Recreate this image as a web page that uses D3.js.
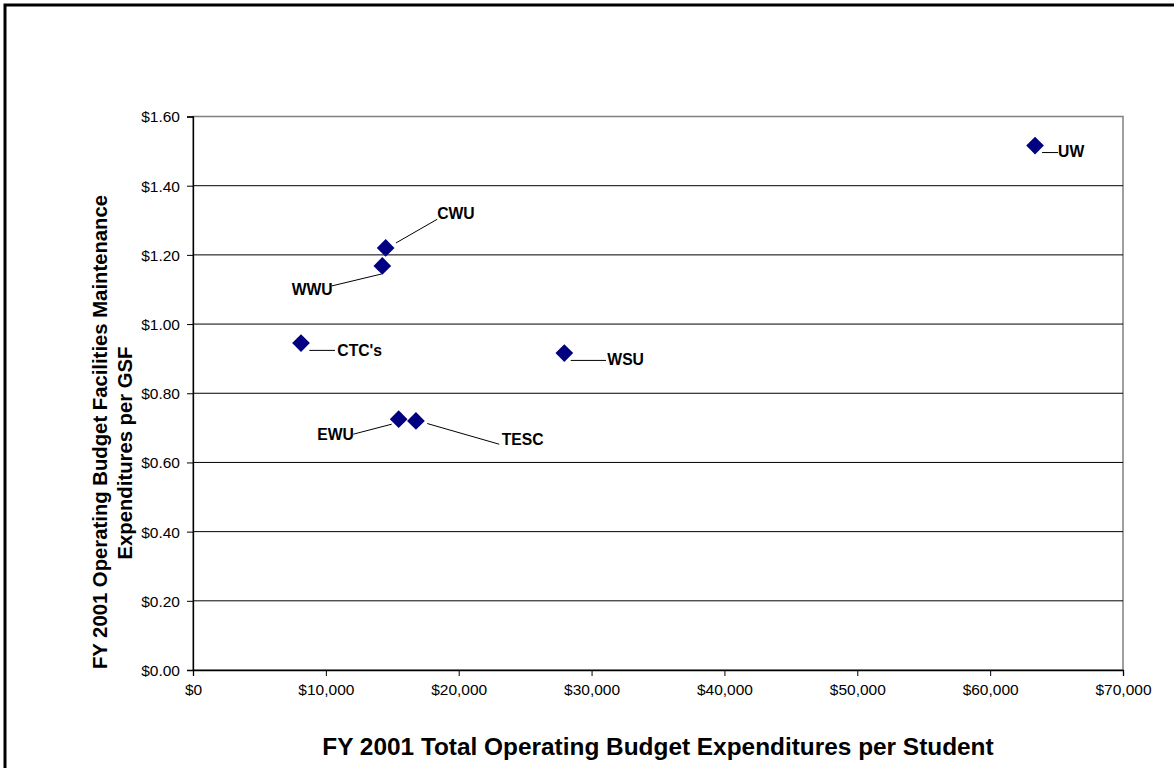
<!DOCTYPE html>
<html><head>
<meta charset="utf-8">
<script src="https://cdn.jsdelivr.net/npm/d3@7"></script>
<style>
body { margin: 0; background: #fff; }
text { font-family: "Liberation Sans", Arial, sans-serif; }
.lbl { font-size: 15.7px; font-weight: bold; }
.title { font-size: 24.4px; font-weight: bold; }
.ytitle { font-size: 20.3px; font-weight: bold; }
</style>
</head>
<body>
<script>
// values
var schools = ["UW", "CWU", "WWU", "CTC's", "WSU", "EWU", "TESC"];
var perStudent = [63380, 14500, 14250, 8130, 27950, 15480, 16780];
var perGsf = [1.516, 1.220, 1.168, 0.945, 0.916, 0.725, 0.720];
// label offsets (dx,dy from point) and leader line ends
var labelDx = [23, 51.6, -90.6, 36.3, 43, -81.4, 85.7];
var labelDy = [11, -28.7, 29, 13.3, 12.3, 21, 24.3];
var lineFrom = [[7, 7], [10.3, -5], [-0.6, 8], [8.3, 7.3], [6.4, 7.3], [-7, 5], [11.3, 2.6]];
var lineTo = [[23, 7], [51.6, -28.7], [-50.6, 20], [34, 7.3], [41.7, 7.3], [-45.4, 15], [83.3, 23.3]];

var xTicks = [0, 10000, 20000, 30000, 40000, 50000, 60000, 70000];
var yTicks = [0, 0.2, 0.4, 0.6, 0.8, 1.0, 1.2, 1.4, 1.6];

var width = 1174, height = 768;
var pLeft = 193, pRight = 1123, pTop = 116.5, pBottom = 670;

var svg = d3.select("body").append("svg")
    .attr("width", width)
    .attr("height", height);

svg.append("rect")
    .attr("x", 5).attr("y", 5)
    .attr("width", 1200).attr("height", 800)
    .attr("fill", "#fff").attr("stroke", "#000").attr("stroke-width", 3);

var x = d3.scaleLinear().domain([0, 70000]).range([pLeft, pRight]);
var y = d3.scaleLinear().domain([0, 1.6]).range([pBottom, pTop]);

// plot area border (grey)
svg.append("rect")
    .attr("x", pLeft).attr("y", pTop)
    .attr("width", pRight - pLeft).attr("height", pBottom - pTop)
    .attr("fill", "none").attr("stroke", "#808080").attr("stroke-width", 1.5);

// gridlines
svg.append("g").selectAll("line")
    .data(yTicks.slice(1, -1))
    .join("line")
    .attr("x1", pLeft).attr("x2", pRight)
    .attr("y1", d => y(d)).attr("y2", d => y(d))
    .attr("stroke", "#000").attr("stroke-width", 1);

var fmtY = d => "$" + d.toFixed(2);
var fmtX = d => "$" + d3.format(",")(d);

var yAxis = svg.append("g")
    .attr("transform", "translate(" + pLeft + ",0)")
    .call(d3.axisLeft(y).tickValues(yTicks).tickFormat(fmtY).tickSizeOuter(0).tickSize(6).tickPadding(7));
var xAxis = svg.append("g")
    .attr("transform", "translate(0," + pBottom + ")")
    .call(d3.axisBottom(x).tickValues(xTicks).tickFormat(fmtX).tickSizeOuter(0).tickSize(6).tickPadding(8));
svg.selectAll(".domain").attr("stroke", "#000").attr("stroke-width", 1.3);
svg.selectAll(".tick line").attr("stroke", "#000");
[xAxis, yAxis].forEach(function(a) {
  a.attr("font-size", 15.5).attr("font-family", "Liberation Sans, Arial, sans-serif");
});
yAxis.selectAll(".tick text").attr("dy", "0.35em");

// leader lines
var idx = d3.range(schools.length);
svg.append("g").selectAll("line")
    .data(idx)
    .join("line")
    .attr("x1", i => x(perStudent[i]) + lineFrom[i][0])
    .attr("y1", i => y(perGsf[i]) + lineFrom[i][1])
    .attr("x2", i => x(perStudent[i]) + lineTo[i][0])
    .attr("y2", i => y(perGsf[i]) + lineTo[i][1])
    .attr("stroke", "#000").attr("stroke-width", 1);

// diamonds
var diamond = d3.symbol().type(d3.symbolDiamond2).size(200);
svg.append("g").selectAll("path")
    .data(idx)
    .join("path")
    .attr("d", diamond)
    .attr("transform", i => "translate(" + x(perStudent[i]) + "," + y(perGsf[i]) + ")")
    .attr("fill", "#000080");

// labels
svg.append("g").selectAll("text")
    .data(idx)
    .join("text")
    .attr("class", "lbl")
    .attr("x", i => x(perStudent[i]) + labelDx[i])
    .attr("y", i => y(perGsf[i]) + labelDy[i])
    .text(i => schools[i]);

// axis titles
svg.append("text")
    .attr("class", "title")
    .attr("x", 658).attr("y", 755)
    .attr("text-anchor", "middle")
    .text("FY 2001 Total Operating Budget Expenditures per Student");

svg.append("text")
    .attr("class", "ytitle")
    .attr("transform", "translate(107,432) rotate(-90)")
    .attr("text-anchor", "middle")
    .text("FY 2001 Operating Budget Facilities Maintenance");
svg.append("text")
    .attr("class", "ytitle")
    .attr("transform", "translate(132,453) rotate(-90)")
    .attr("text-anchor", "middle")
    .text("Expenditures per GSF");
</script>
</body></html>
